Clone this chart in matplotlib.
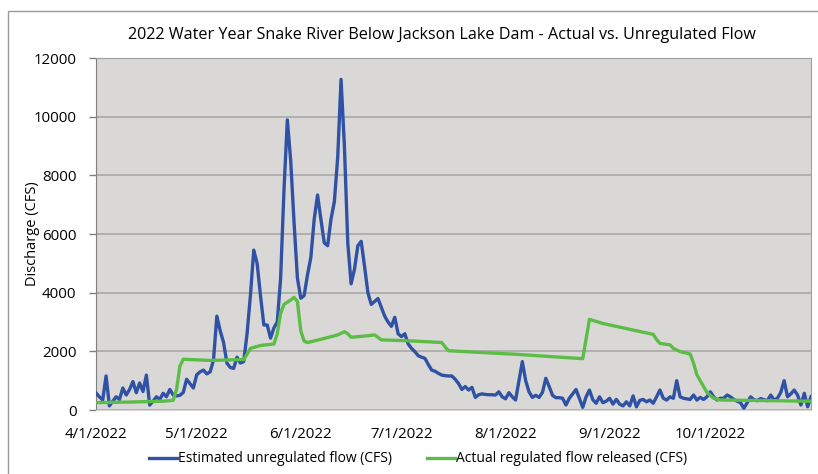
import datetime as dt
import matplotlib
matplotlib.use("Agg")
import matplotlib.pyplot as plt
from matplotlib.patches import Rectangle

plt.rcParams['font.family'] = ['Open Sans', 'DejaVu Sans']

start = dt.date(2022, 4, 1)

# estimated unregulated flow, day offset from 4/1/2022 -> cfs
unreg_day = list(range(0, 214))
unreg_cfs = [
    580, 450, 340, 1160, 140, 300, 450, 360, 750, 510,
    700, 970, 590, 920, 630, 1190, 170, 300, 450, 360,
    570, 450, 700, 510, 480, 500, 600, 1050, 900, 750,
    1200, 1300, 1360, 1230, 1300, 1700, 3200, 2700, 2300, 1600,
    1450, 1420, 1800, 1600, 1650, 2600, 3900, 5450, 5000, 3900,
    2900, 2900, 2450, 2800, 3000, 4500, 7500, 9890, 8500, 6400,
    4500, 3810, 3900, 4600, 5200, 6500, 7330, 6500, 5700, 5600,
    6500, 7100, 8600, 11270, 9000, 5700, 4300, 4800, 5600, 5750,
    4900, 4000, 3600, 3700, 3800, 3500, 3200, 3000, 2850, 3160,
    2600, 2500, 2600, 2250, 2100, 1990, 1850, 1800, 1760, 1550,
    1360, 1320, 1250, 1190, 1170, 1160, 1160, 1050, 900, 700,
    800, 680, 770, 430, 520, 550, 530, 520, 520, 510,
    620, 450, 380, 590, 450, 340, 1000, 1650, 1000, 620,
    430, 500, 430, 600, 1080, 800, 500, 420, 420, 400,
    170, 400, 550, 700, 400, 90, 450, 680, 350, 230,
    450, 250, 300, 400, 200, 360, 200, 140, 280, 140,
    480, 110, 330, 360, 280, 340, 230, 450, 680, 400,
    340, 450, 400, 1000, 450, 400, 380, 360, 510, 340,
    430, 360, 450, 620, 450, 340, 400, 400, 510, 450,
    360, 300, 250, 60, 250, 450, 350, 320, 390, 350,
    320, 510, 340, 400, 600, 1000, 450, 550, 680, 510,
    170, 570, 110, 450,
]

# actual regulated release, day offset -> cfs
reg_day = [0, 10, 20, 23, 24, 25, 26, 34, 44, 45, 46, 49, 53, 54, 55, 56,
           58, 59, 60, 61, 62, 63, 67, 70, 72, 74, 75, 76, 80, 83, 84, 85,
           93, 103, 104, 105, 125, 145, 147, 151, 161, 166, 167, 168, 171,
           172, 174, 177, 178, 179, 181, 182, 184, 186, 213]
reg_cfs = [250, 270, 300, 330, 700, 1500, 1730, 1690, 1720, 1900, 2100,
           2200, 2250, 2600, 3300, 3600, 3750, 3840, 3700, 2700, 2350, 2300,
           2410, 2500, 2560, 2670, 2600, 2480, 2520, 2560, 2480, 2390, 2360,
           2300, 2150, 2020, 1900, 1750, 3090, 2950, 2700, 2580, 2400, 2270,
           2220, 2100, 1990, 1910, 1600, 1200, 800, 600, 400, 340, 300]

month_ticks = [dt.date(2022, m, 1) for m in range(4, 11)]
tick_labels = [f"{d.month}/{d.day}/{d.year}" for d in month_ticks]

unreg_dates = [start + dt.timedelta(days=d) for d in unreg_day]
reg_dates = [start + dt.timedelta(days=d) for d in reg_day]

fig = plt.figure(figsize=(8.18, 4.74), dpi=100)
# chart-area frame, open to the right and bottom
fig.patches.append(Rectangle((8 / 818, -0.05), 1.2, 1 - 11 / 474 + 0.05,
                             transform=fig.transFigure, fill=False,
                             edgecolor='#9a9a9a', linewidth=1.0))

ax = fig.add_axes([96 / 818, 1 - 410 / 474, (811 - 96) / 818, (410 - 58) / 474])
ax.set_facecolor('#d9d8d7')

line_u, = ax.plot(unreg_dates, unreg_cfs, color='#2f52a4', linewidth=2.4,
                  solid_joinstyle='round', zorder=3)
line_r, = ax.plot(reg_dates, reg_cfs, color='#5cbd46', linewidth=2.4,
                  solid_joinstyle='round', zorder=3)

ax.set_xlim(start, dt.date(2022, 10, 31))
ax.set_ylim(0, 12000)
ax.set_yticks(range(0, 12001, 2000))
ax.set_xticks(month_ticks)
ax.set_xticklabels(tick_labels)
ax.grid(axis='y', color='#a8a8a8', linewidth=1.2, zorder=1)

ax.tick_params(axis='y', length=5, width=1, color='#7f7f7f', pad=9, labelsize=10.8)
ax.tick_params(axis='x', length=4, width=1, color='#ffffff', pad=8, labelsize=10.8)
ax.spines['left'].set_color('#7f7f7f')
ax.spines['top'].set_color('#a0a0a0')
ax.spines['right'].set_color('#a0a0a0')
ax.spines['bottom'].set_color('#d9d8d7')

fig.text(442 / 818, 1 - 35 / 474,
         '2022 Water Year Snake River Below Jackson Lake Dam - Actual vs. Unregulated Flow',
         ha='center', va='center', fontsize=11.6)
fig.text(32 / 818, 1 - 234 / 474, 'Discharge (CFS)', rotation=90,
         ha='center', va='center', fontsize=10.5)

fig.legend([line_u, line_r],
           ['Estimated unregulated flow (CFS)', 'Actual regulated flow released (CFS)'],
           loc='center', bbox_to_anchor=(418 / 818, 1 - 459 / 474), ncol=2,
           frameon=False, fontsize=10, handlelength=2.0, handletextpad=0.1,
           columnspacing=2.5)

fig.savefig('out.png', dpi=100)
